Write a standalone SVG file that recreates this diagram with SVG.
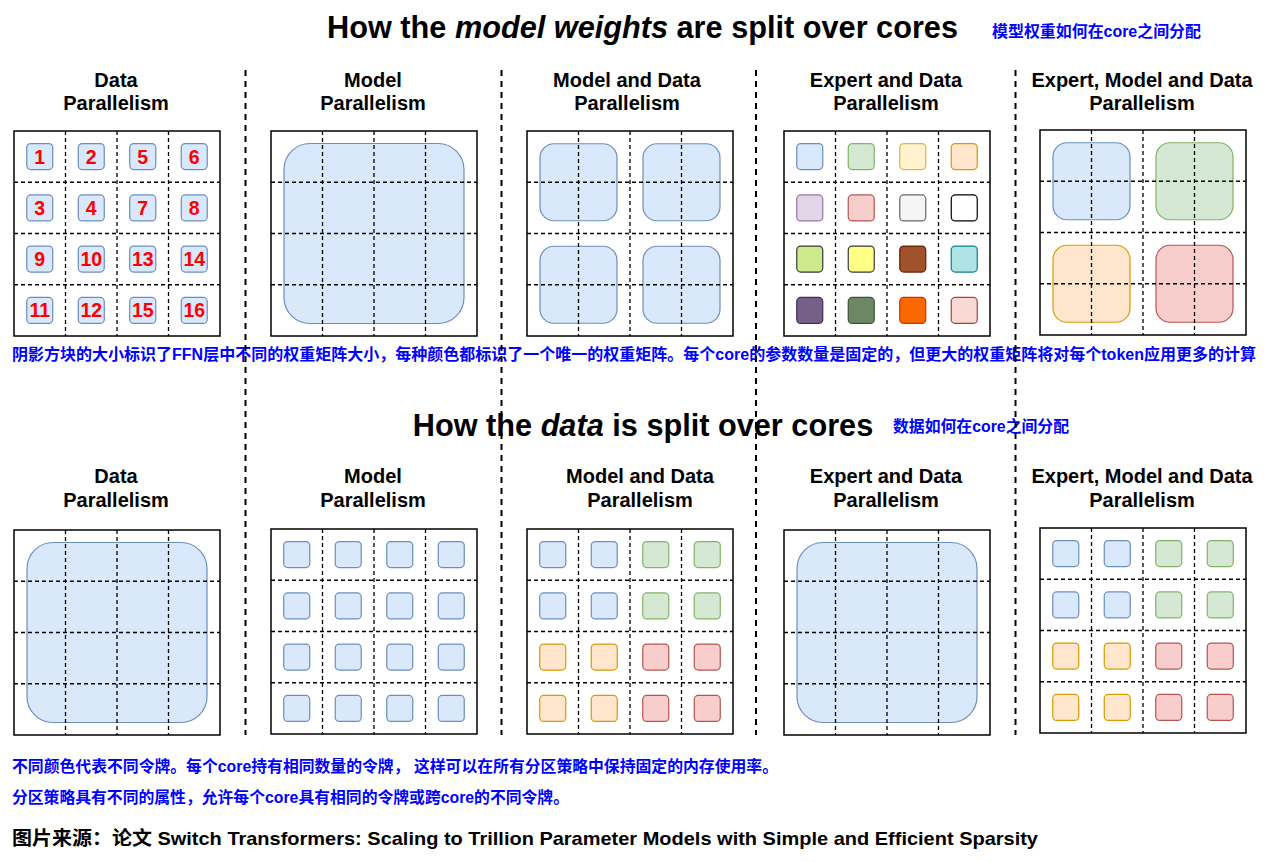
<svg xmlns="http://www.w3.org/2000/svg" xmlns:xlink="http://www.w3.org/1999/xlink" width="1271" height="862" viewBox="0 0 1271 862">
<style>
.bg{fill:#ffffff}
.box{fill:#ffffff;stroke:#000000;stroke-width:1.5}
.gl{stroke:#000000;stroke-width:1.3;stroke-dasharray:4 3;fill:none}
.sep{stroke:#000000;stroke-width:2;stroke-dasharray:6 5;fill:none}
.tt{font-family:"Liberation Sans",Arial,sans-serif;font-weight:bold;fill:#000000;text-anchor:middle}
.h{font-size:30.7px}
.pt{font-size:20px}
.num{font-family:"Liberation Sans",Arial,sans-serif;font-weight:bold;font-size:19.5px;fill:#ff0000;text-anchor:middle}
.cn{font-family:"Liberation Sans","Noto Sans CJK SC",sans-serif;font-weight:bold;fill:#0000ff;font-size:16px}
.src{font-family:"Liberation Sans","Noto Sans CJK SC",sans-serif;font-weight:bold;fill:#000000;font-size:19px}
.b{fill:#dae8fc;stroke:#6c8ebf;stroke-width:1.2}
.g{fill:#d5e8d4;stroke:#82b366;stroke-width:1.2}
.y{fill:#fff2cc;stroke:#d6b656;stroke-width:1.2}
.o{fill:#ffe6cc;stroke:#d79b00;stroke-width:1.2}
.p{fill:#e1d5e7;stroke:#9673a6;stroke-width:1.2}
.r{fill:#f8cecc;stroke:#b85450;stroke-width:1.2}
.gy{fill:#f5f5f5;stroke:#666666;stroke-width:1.2}
.w{fill:#ffffff;stroke:#000000;stroke-width:1.2}
.li{fill:#cdeb8b;stroke:#36393d;stroke-width:1.2}
.ye{fill:#ffff88;stroke:#36393d;stroke-width:1.2}
.br{fill:#a0522d;stroke:#6d1f00;stroke-width:1.2}
.te{fill:#b0e3e6;stroke:#0e8088;stroke-width:1.2}
.dp{fill:#76608a;stroke:#432d57;stroke-width:1.2}
.dg{fill:#6d8764;stroke:#3a5431;stroke-width:1.2}
.do{fill:#fa6800;stroke:#c73500;stroke-width:1.2}
.pk{fill:#fad9d5;stroke:#ae4132;stroke-width:1.2}
</style>
<defs>
<g id="gridlines">
<line class="gl" x1="51.5" y1="0" x2="51.5" y2="205"/>
<line class="gl" x1="103" y1="0" x2="103" y2="205"/>
<line class="gl" x1="154.5" y1="0" x2="154.5" y2="205"/>
<line class="gl" x1="0" y1="51.25" x2="206" y2="51.25"/>
<line class="gl" x1="0" y1="102.5" x2="206" y2="102.5"/>
<line class="gl" x1="0" y1="153.75" x2="206" y2="153.75"/>
</g>
</defs>
<rect class="bg" x="0" y="0" width="1271" height="862"/>

<g id="titles">
<text class="tt h" x="642.5" y="38">How the <tspan font-style="italic">model weights</tspan> are split over cores</text>
<text class="cn" x="992" y="37" font-size="15" textLength="209" lengthAdjust="spacingAndGlyphs">模型权重如何在core之间分配</text>
<text class="tt h" x="643" y="436">How the <tspan font-style="italic">data</tspan> is split over cores</text>
<text class="cn" x="893" y="432" font-size="15" textLength="176" lengthAdjust="spacingAndGlyphs">数据如何在core之间分配</text>
</g>

<g id="panel-titles">
<text class="tt pt" x="116" y="87">Data</text><text class="tt pt" x="116" y="110">Parallelism</text>
<text class="tt pt" x="373" y="87">Model</text><text class="tt pt" x="373" y="110">Parallelism</text>
<text class="tt pt" x="627" y="87">Model and Data</text><text class="tt pt" x="627" y="110">Parallelism</text>
<text class="tt pt" x="886" y="87">Expert and Data</text><text class="tt pt" x="886" y="110">Parallelism</text>
<text class="tt pt" x="1142" y="87">Expert, Model and Data</text><text class="tt pt" x="1142" y="110">Parallelism</text>
<text class="tt pt" x="116" y="483">Data</text><text class="tt pt" x="116" y="507">Parallelism</text>
<text class="tt pt" x="373" y="483">Model</text><text class="tt pt" x="373" y="507">Parallelism</text>
<text class="tt pt" x="640" y="483">Model and Data</text><text class="tt pt" x="640" y="507">Parallelism</text>
<text class="tt pt" x="886" y="483">Expert and Data</text><text class="tt pt" x="886" y="507">Parallelism</text>
<text class="tt pt" x="1142" y="483">Expert, Model and Data</text><text class="tt pt" x="1142" y="507">Parallelism</text>
</g>

<g id="w-data">
<rect class="box" x="14" y="131" width="206" height="205"/>
<g>
<rect class="b" x="26.75" y="143.6" width="26" height="26" rx="4"/><rect class="b" x="78.25" y="143.6" width="26" height="26" rx="4"/><rect class="b" x="129.75" y="143.6" width="26" height="26" rx="4"/><rect class="b" x="181.25" y="143.6" width="26" height="26" rx="4"/>
<rect class="b" x="26.75" y="194.9" width="26" height="26" rx="4"/><rect class="b" x="78.25" y="194.9" width="26" height="26" rx="4"/><rect class="b" x="129.75" y="194.9" width="26" height="26" rx="4"/><rect class="b" x="181.25" y="194.9" width="26" height="26" rx="4"/>
<rect class="b" x="26.75" y="246.1" width="26" height="26" rx="4"/><rect class="b" x="78.25" y="246.1" width="26" height="26" rx="4"/><rect class="b" x="129.75" y="246.1" width="26" height="26" rx="4"/><rect class="b" x="181.25" y="246.1" width="26" height="26" rx="4"/>
<rect class="b" x="26.75" y="297.4" width="26" height="26" rx="4"/><rect class="b" x="78.25" y="297.4" width="26" height="26" rx="4"/><rect class="b" x="129.75" y="297.4" width="26" height="26" rx="4"/><rect class="b" x="181.25" y="297.4" width="26" height="26" rx="4"/>
</g>
<g>
<text class="num" x="39.75" y="163.6">1</text><text class="num" x="91.25" y="163.6">2</text><text class="num" x="142.75" y="163.6">5</text><text class="num" x="194.25" y="163.6">6</text>
<text class="num" x="39.75" y="214.9">3</text><text class="num" x="91.25" y="214.9">4</text><text class="num" x="142.75" y="214.9">7</text><text class="num" x="194.25" y="214.9">8</text>
<text class="num" x="39.75" y="266.1">9</text><text class="num" x="91.25" y="266.1">10</text><text class="num" x="142.75" y="266.1">13</text><text class="num" x="194.25" y="266.1">14</text>
<text class="num" x="39.75" y="317.4">11</text><text class="num" x="91.25" y="317.4">12</text><text class="num" x="142.75" y="317.4">15</text><text class="num" x="194.25" y="317.4">16</text>
</g>
<use xlink:href="#gridlines" x="14" y="131"/>
</g>

<g id="w-model">
<rect class="box" x="271" y="131" width="206" height="205"/>
<rect class="b" x="284" y="143.5" width="180" height="180" rx="26"/>
<use xlink:href="#gridlines" x="271" y="131"/>
</g>

<g id="w-model-data">
<rect class="box" x="527" y="131" width="206" height="205"/>
<rect class="b" x="540" y="143.75" width="77" height="77" rx="14"/>
<rect class="b" x="643" y="143.75" width="77" height="77" rx="14"/>
<rect class="b" x="540" y="246.25" width="77" height="77" rx="14"/>
<rect class="b" x="643" y="246.25" width="77" height="77" rx="14"/>
<use xlink:href="#gridlines" x="527" y="131"/>
</g>

<g id="w-expert-data">
<rect class="box" x="784" y="131" width="206" height="205"/>
<rect class="b" x="796.75" y="143.6" width="26" height="26" rx="4"/><rect class="g" x="848.25" y="143.6" width="26" height="26" rx="4"/><rect class="y" x="899.75" y="143.6" width="26" height="26" rx="4"/><rect class="o" x="951.25" y="143.6" width="26" height="26" rx="4"/>
<rect class="p" x="796.75" y="194.9" width="26" height="26" rx="4"/><rect class="r" x="848.25" y="194.9" width="26" height="26" rx="4"/><rect class="gy" x="899.75" y="194.9" width="26" height="26" rx="4"/><rect class="w" x="951.25" y="194.9" width="26" height="26" rx="4"/>
<rect class="li" x="796.75" y="246.1" width="26" height="26" rx="4"/><rect class="ye" x="848.25" y="246.1" width="26" height="26" rx="4"/><rect class="br" x="899.75" y="246.1" width="26" height="26" rx="4"/><rect class="te" x="951.25" y="246.1" width="26" height="26" rx="4"/>
<rect class="dp" x="796.75" y="297.4" width="26" height="26" rx="4"/><rect class="dg" x="848.25" y="297.4" width="26" height="26" rx="4"/><rect class="do" x="899.75" y="297.4" width="26" height="26" rx="4"/><rect class="pk" x="951.25" y="297.4" width="26" height="26" rx="4"/>
<use xlink:href="#gridlines" x="784" y="131"/>
</g>

<g id="w-expert-model-data">
<rect class="box" x="1040" y="130" width="206" height="205"/>
<rect class="b" x="1053" y="142.75" width="77" height="77" rx="14"/>
<rect class="g" x="1156" y="142.75" width="77" height="77" rx="14"/>
<rect class="o" x="1053" y="245.25" width="77" height="77" rx="14"/>
<rect class="r" x="1156" y="245.25" width="77" height="77" rx="14"/>
<use xlink:href="#gridlines" x="1040" y="130"/>
</g>

<g id="d-data">
<rect class="box" x="14" y="530" width="206" height="205"/>
<rect class="b" x="27" y="542.5" width="180" height="180" rx="26"/>
<use xlink:href="#gridlines" x="14" y="530"/>
</g>

<g id="d-model">
<rect class="box" x="271" y="529" width="206" height="205"/>
<rect class="b" x="283.75" y="541.6" width="26" height="26" rx="4"/><rect class="b" x="335.25" y="541.6" width="26" height="26" rx="4"/><rect class="b" x="386.75" y="541.6" width="26" height="26" rx="4"/><rect class="b" x="438.25" y="541.6" width="26" height="26" rx="4"/>
<rect class="b" x="283.75" y="592.9" width="26" height="26" rx="4"/><rect class="b" x="335.25" y="592.9" width="26" height="26" rx="4"/><rect class="b" x="386.75" y="592.9" width="26" height="26" rx="4"/><rect class="b" x="438.25" y="592.9" width="26" height="26" rx="4"/>
<rect class="b" x="283.75" y="644.1" width="26" height="26" rx="4"/><rect class="b" x="335.25" y="644.1" width="26" height="26" rx="4"/><rect class="b" x="386.75" y="644.1" width="26" height="26" rx="4"/><rect class="b" x="438.25" y="644.1" width="26" height="26" rx="4"/>
<rect class="b" x="283.75" y="695.4" width="26" height="26" rx="4"/><rect class="b" x="335.25" y="695.4" width="26" height="26" rx="4"/><rect class="b" x="386.75" y="695.4" width="26" height="26" rx="4"/><rect class="b" x="438.25" y="695.4" width="26" height="26" rx="4"/>
<use xlink:href="#gridlines" x="271" y="529"/>
</g>

<g id="d-model-data">
<rect class="box" x="527" y="529" width="206" height="205"/>
<rect class="b" x="539.75" y="541.6" width="26" height="26" rx="4"/><rect class="b" x="591.25" y="541.6" width="26" height="26" rx="4"/><rect class="g" x="642.75" y="541.6" width="26" height="26" rx="4"/><rect class="g" x="694.25" y="541.6" width="26" height="26" rx="4"/>
<rect class="b" x="539.75" y="592.9" width="26" height="26" rx="4"/><rect class="b" x="591.25" y="592.9" width="26" height="26" rx="4"/><rect class="g" x="642.75" y="592.9" width="26" height="26" rx="4"/><rect class="g" x="694.25" y="592.9" width="26" height="26" rx="4"/>
<rect class="o" x="539.75" y="644.1" width="26" height="26" rx="4"/><rect class="o" x="591.25" y="644.1" width="26" height="26" rx="4"/><rect class="r" x="642.75" y="644.1" width="26" height="26" rx="4"/><rect class="r" x="694.25" y="644.1" width="26" height="26" rx="4"/>
<rect class="o" x="539.75" y="695.4" width="26" height="26" rx="4"/><rect class="o" x="591.25" y="695.4" width="26" height="26" rx="4"/><rect class="r" x="642.75" y="695.4" width="26" height="26" rx="4"/><rect class="r" x="694.25" y="695.4" width="26" height="26" rx="4"/>
<use xlink:href="#gridlines" x="527" y="529"/>
</g>

<g id="d-expert-data">
<rect class="box" x="784" y="530" width="206" height="205"/>
<rect class="b" x="797" y="542.5" width="180" height="180" rx="26"/>
<use xlink:href="#gridlines" x="784" y="530"/>
</g>

<g id="d-expert-model-data">
<rect class="box" x="1040" y="528" width="206" height="205"/>
<rect class="b" x="1052.75" y="540.6" width="26" height="26" rx="4"/><rect class="b" x="1104.25" y="540.6" width="26" height="26" rx="4"/><rect class="g" x="1155.75" y="540.6" width="26" height="26" rx="4"/><rect class="g" x="1207.25" y="540.6" width="26" height="26" rx="4"/>
<rect class="b" x="1052.75" y="591.9" width="26" height="26" rx="4"/><rect class="b" x="1104.25" y="591.9" width="26" height="26" rx="4"/><rect class="g" x="1155.75" y="591.9" width="26" height="26" rx="4"/><rect class="g" x="1207.25" y="591.9" width="26" height="26" rx="4"/>
<rect class="o" x="1052.75" y="643.1" width="26" height="26" rx="4"/><rect class="o" x="1104.25" y="643.1" width="26" height="26" rx="4"/><rect class="r" x="1155.75" y="643.1" width="26" height="26" rx="4"/><rect class="r" x="1207.25" y="643.1" width="26" height="26" rx="4"/>
<rect class="o" x="1052.75" y="694.4" width="26" height="26" rx="4"/><rect class="o" x="1104.25" y="694.4" width="26" height="26" rx="4"/><rect class="r" x="1155.75" y="694.4" width="26" height="26" rx="4"/><rect class="r" x="1207.25" y="694.4" width="26" height="26" rx="4"/>
<use xlink:href="#gridlines" x="1040" y="528"/>
</g>

<g id="captions">
<text class="cn" x="12" y="360" textLength="1244" lengthAdjust="spacingAndGlyphs">阴影方块的大小标识了FFN层中不同的权重矩阵大小，每种颜色都标识了一个唯一的权重矩阵。每个core的参数数量是固定的，但更大的权重矩阵将对每个token应用更多的计算</text>
<text class="cn" x="12" y="772" textLength="766" lengthAdjust="spacingAndGlyphs">不同颜色代表不同令牌。每个core持有相同数量的令牌， 这样可以在所有分区策略中保持固定的内存使用率。</text>
<text class="cn" x="12" y="803" textLength="557" lengthAdjust="spacingAndGlyphs">分区策略具有不同的属性，允许每个core具有相同的令牌或跨core的不同令牌。</text>
<text class="src" x="12" y="845" textLength="1026" lengthAdjust="spacingAndGlyphs">图片来源：论文 Switch Transformers: Scaling to Trillion Parameter Models with Simple and Efficient Sparsity</text>
</g>

<g id="separators">
<line class="sep" x1="245.5" y1="70" x2="245.5" y2="735"/>
<line class="sep" x1="501.5" y1="70" x2="501.5" y2="735"/>
<line class="sep" x1="756" y1="70" x2="756" y2="735"/>
<line class="sep" x1="1015.5" y1="70" x2="1015.5" y2="735"/>
</g>
</svg>
